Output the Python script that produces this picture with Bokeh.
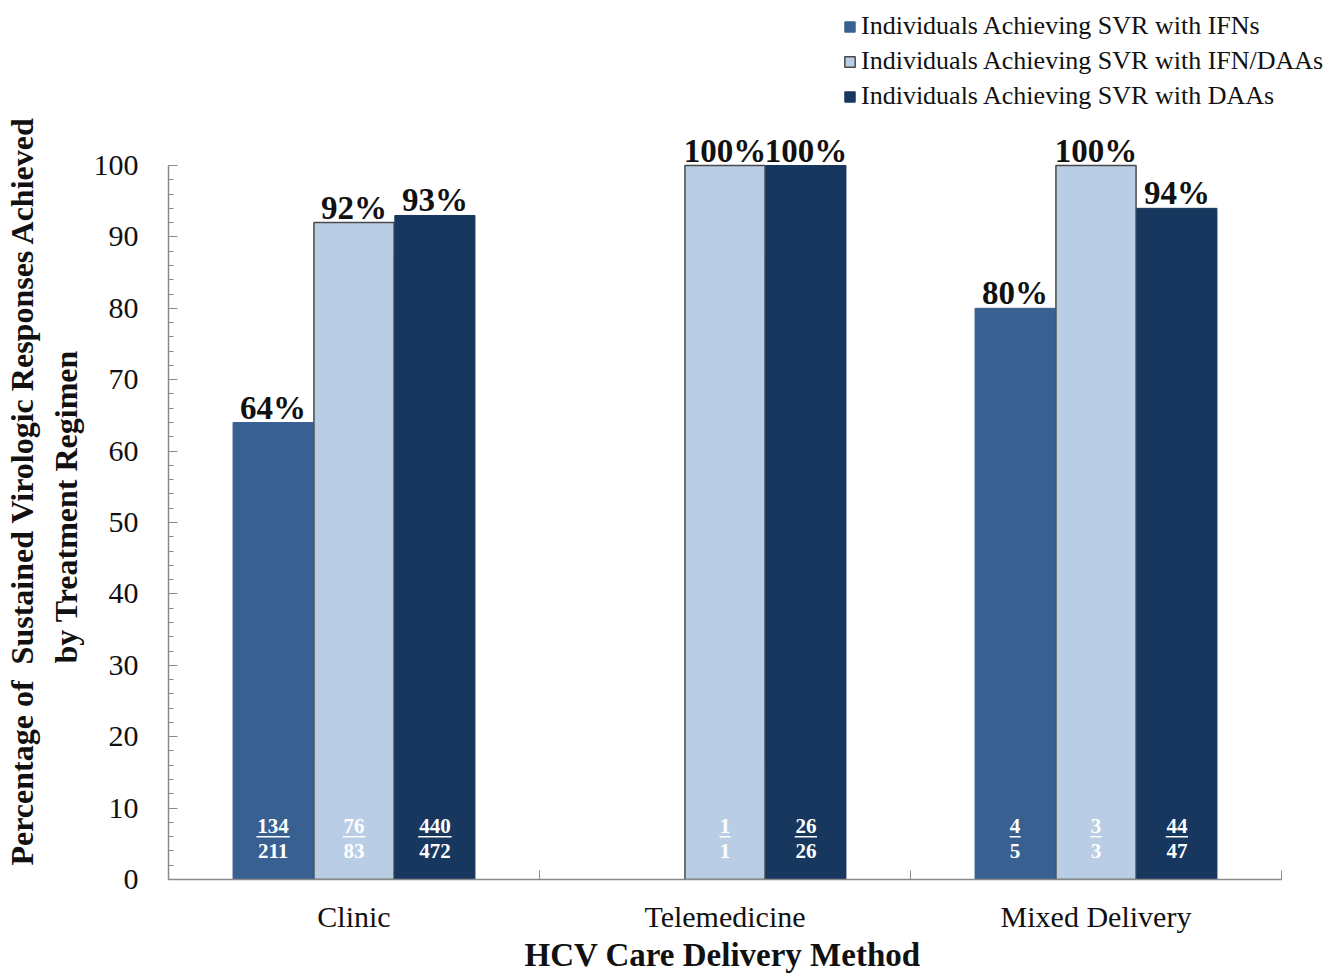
from bokeh.plotting import figure
from bokeh.models import ColumnDataSource, FixedTicker, Legend, LegendItem, Range1d, Title
from bokeh.embed import file_html
from bokeh.resources import INLINE
from bokeh.core.properties import value
import numpy as np

# --- data -------------------------------------------------------------
methods = ["Clinic", "Telemedicine", "Mixed Delivery"]
series_names = [
    "Individuals Achieving SVR with IFNs",
    "Individuals Achieving SVR with IFN/DAAs",
    "Individuals Achieving SVR with DAAs",
]
# SVR percentage per delivery method (None = no patients on that regimen)
svr_ifn = [64, None, 80]
svr_ifn_daa = [92, 100, 100]
svr_daa = [93, 100, 94]
# achieved / treated counts shown inside the bars
ifn_achieved = [134, None, 4]
ifn_treated = [211, None, 5]
ifn_daa_achieved = [76, 1, 3]
ifn_daa_treated = [83, 1, 3]
daa_achieved = [440, 26, 44]
daa_treated = [472, 26, 47]
y_ticks = [0, 10, 20, 30, 40, 50, 60, 70, 80, 90, 100]
x_title = "HCV Care Delivery Method"
y_title = ["Percentage of\u00a0 Sustained Virologic Responses Achieved",
           "by Treatment Regimen"]

# --- styling ------------------------------------------------------------
SERIF = "Liberation Serif"
INK = "#111111"
colors = ["#386192", "#B9CDE5", "#17375E"]
outlines = ["#386192", "#4a4a4a", "#17375E"]
AXIS_GREY = "#8a8a8a"
bar_w = 0.216
offsets = [-0.218, 0.0, 0.218]
PX_PER_UNIT = 7.14          # vertical pixels per percentage point
PX_PER_GROUP = 371          # horizontal pixels per delivery method
FRAME_LEFT, FRAME_RIGHT = 168, 1340
FRAME_TOP, FRAME_BOTTOM = 5, 879
n_groups = len(methods)

p = figure(
    width=1343, height=975,
    x_range=Range1d(0, (FRAME_RIGHT - FRAME_LEFT) / PX_PER_GROUP),
    y_range=Range1d(0, (FRAME_BOTTOM - FRAME_TOP) / PX_PER_UNIT),
    min_border_left=FRAME_LEFT, min_border_right=1343 - FRAME_RIGHT,
    min_border_top=FRAME_TOP, min_border_bottom=975 - FRAME_BOTTOM,
    output_backend="svg", toolbar_location=None,
    background_fill_color="white", border_fill_color="white",
    outline_line_color=None,
)
p.xgrid.visible = False
p.ygrid.visible = False

centers = np.arange(n_groups) + 0.5
groups = [
    (svr_ifn, ifn_achieved, ifn_treated),
    (svr_ifn_daa, ifn_daa_achieved, ifn_daa_treated),
    (svr_daa, daa_achieved, daa_treated),
]

renderers = []
for i, (vals, num, den) in enumerate(groups):
    keep = [k for k, v in enumerate(vals) if v is not None]
    xs = [float(centers[k] + offsets[i]) for k in keep]
    top = [vals[k] for k in keep]
    src = ColumnDataSource(dict(
        x=xs, top=top,
        pct=[f"{vals[k]}%" for k in keep],
        num=[str(num[k]) for k in keep],
        den=[str(den[k]) for k in keep],
        ul0=[xs[j] - len(str(num[k])) * 0.0150 for j, k in enumerate(keep)],
        ul1=[xs[j] + len(str(num[k])) * 0.0150 for j, k in enumerate(keep)],
    ))
    r = p.vbar(x="x", top="top", width=bar_w, source=src,
               fill_color=colors[i], line_color=outlines[i],
               line_width=1.5 if i == 1 else 1)
    renderers.append(r)

    # percentage above each bar
    p.text(x="x", y="top", text="pct", source=src,
           text_font=value(SERIF), text_font_style="bold",
           text_font_size="33px", text_color=INK,
           text_align="center", text_baseline="bottom", y_offset=3)
    # achieved over treated at the foot of the bar
    p.text(x="x", y=7.55, text="num", source=src,
           text_font=value(SERIF), text_font_style="bold",
           text_font_size="21px", text_color="white",
           text_align="center", text_baseline="middle")
    p.segment(x0="ul0", y0=6.0, x1="ul1", y1=6.0, source=src,
              line_color="white", line_width=1.5)
    p.text(x="x", y=4.05, text="den", source=src,
           text_font=value(SERIF), text_font_style="bold",
           text_font_size="21px", text_color="white",
           text_align="center", text_baseline="middle")

# --- axes ---------------------------------------------------------------
xa = p.xaxis[0]
xa.bounds = (0, n_groups)
xa.ticker = FixedTicker(ticks=list(centers), minor_ticks=list(range(n_groups + 1)))
xa.major_label_overrides = {float(c): m for c, m in zip(centers, methods)}
xa.major_tick_in = 0
xa.major_tick_out = 0
xa.minor_tick_in = 9
xa.minor_tick_out = 0
xa.minor_tick_line_color = AXIS_GREY
xa.axis_line_color = AXIS_GREY
xa.axis_line_width = 1.5
xa.major_label_text_font = SERIF
xa.major_label_text_font_size = "30px"
xa.major_label_text_color = INK
xa.major_label_standoff = 20

p.add_layout(Title(text=x_title, align="left", offset=356,
                   vertical_align="top", standoff=2,
                   text_font=SERIF, text_font_style="bold",
                   text_font_size="33px", text_color=INK), "below")

ya = p.yaxis[0]
ya.bounds = (0, 100)
ya.ticker = FixedTicker(ticks=y_ticks, minor_ticks=list(range(0, 101, 2)))
ya.major_tick_in = 9
ya.major_tick_out = 0
ya.minor_tick_in = 5
ya.minor_tick_out = 0
ya.major_tick_line_color = AXIS_GREY
ya.minor_tick_line_color = AXIS_GREY
ya.axis_line_color = AXIS_GREY
ya.axis_line_width = 1.5
ya.major_label_text_font = SERIF
ya.major_label_text_font_size = "30px"
ya.major_label_text_color = INK
ya.major_label_standoff = 30

# two-line vertical axis title, both lines centred on the same height
line_offsets = [14, 216]
line_standoffs = [0, 13]
for text, off, so in reversed(list(zip(y_title, line_offsets, line_standoffs))):
    p.add_layout(Title(text=text, align="left", offset=off,
                       text_font=SERIF, text_font_style="bold",
                       text_font_size="32px", text_color=INK,
                       standoff=so), "left")

# --- legend -------------------------------------------------------------
legend = Legend(
    items=[LegendItem(label=n, renderers=[r]) for n, r in zip(series_names, renderers)],
    location=(675, 768),
    orientation="vertical",
    label_text_font=SERIF, label_text_font_size="26px",
    label_text_color=INK,
    glyph_width=13, glyph_height=13, label_standoff=5,
    spacing=5, padding=0, margin=0,
    border_line_color=None, background_fill_alpha=0,
)
p.add_layout(legend)

open("out.html", "w").write(file_html(p, INLINE))
